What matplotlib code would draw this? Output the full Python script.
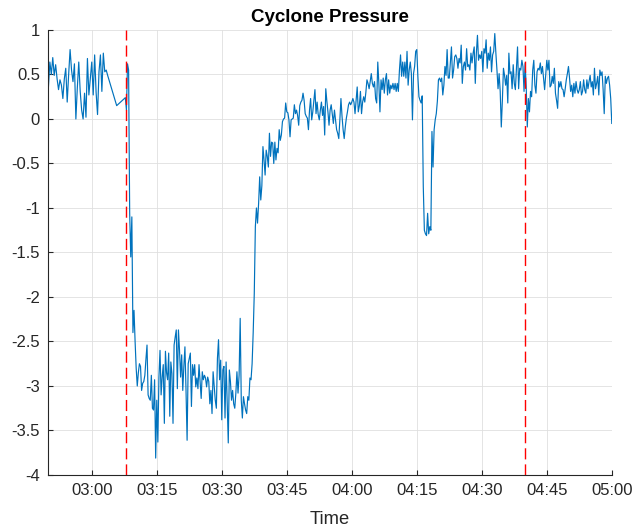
import numpy as np
import pandas as pd
import matplotlib
matplotlib.use("Agg")
import matplotlib.pyplot as plt
import matplotlib.dates as mdates
from matplotlib.ticker import FuncFormatter

plt.rcParams['font.family'] = ['Liberation Sans', 'DejaVu Sans']

day = '2021-01-01 '

# logger readings before the dropout, one every 20 s from 02:50
early = [0.36, 0.64, 0.5, 0.69, 0.49, 0.61, 0.45, 0.33, 0.44, 0.38,
         0.23, 0.45, 0.57, 0.19, 0.5, 0.78, 0.55, 0.42, 0.62, 0.0,
         0.35, 0.64, 0.31, 0.1, 0.0, 0.29, 0.02, 0.68, 0.27, 0.45,
         0.64, 0.27, 0.72, 0.3, 0.05, 0.53, 0.72, 0.31, 0.74, 0.53,
         0.55, 0.49]

# the two stray samples inside the dropout
gap_times = ['03:05:45', '03:07:45']
gap_vals = [0.15, 0.24]

# from 03:08 on, one reading every 15 s
drop = [0.10, 0.62, 0.55, -1.06, -1.55, -1.1, -2.4, -2.15, -2.5, -2.8,
        -3.0, -2.85, -2.75]
low = [-2.78, -3.05, -2.97, -2.95, -2.88, -2.7, -2.54, -3.1, -3.14, -3.16,
       -2.88, -3.25, -3.27, -2.93, -3.81, -3.16, -3.63, -2.9, -2.6, -3.1,
       -2.9, -2.76, -3.42, -2.61, -2.85, -2.93, -2.63, -3.34, -2.73, -2.86,
       -3.42, -2.54, -2.45, -2.37, -3.03, -2.37, -2.6, -2.9, -2.65, -3.05,
       -2.78, -2.56, -3.05, -3.61, -2.75, -2.69, -2.63, -3.23, -2.76, -2.88,
       -2.76, -3.01, -2.91, -3.03, -2.76, -2.95, -3.14, -2.84, -2.93, -2.88,
       -2.91, -3.01, -2.9, -2.95, -3.2, -3.05, -3.31, -2.84, -3.0, -3.16,
       -3.25, -2.69, -2.48, -2.93, -2.71, -3.38, -2.82, -2.78, -3.36, -2.73,
       -3.2, -3.64, -2.82, -2.95, -3.16, -3.05, -3.2, -3.25, -3.08, -2.84,
       -3.08, -2.88, -2.24, -3.16, -3.36, -3.12, -3.2, -3.27, -3.31, -3.12,
       -3.16, -2.91, -2.93]
rise = [-2.75, -2.4, -1.96, -1.21, -1.0, -1.17, -0.95, -0.65, -0.91, -0.75,
        -0.31, -0.46, -0.63, -0.35, -0.42, -0.54, -0.16, -0.42, -0.26, -0.27,
        -0.5, -0.26, -0.46, -0.33, -0.38, -0.12, -0.24, -0.18, -0.03, 0.0,
        0.01, 0.18, 0.08, 0.07, -0.01]
plateau = [-0.2, -0.01, 0.0, 0.01, 0.16, 0.06, 0.1, 0.04, -0.07, 0.15,
           0.19, 0.21, 0.29, 0.21, 0.06, 0.03, 0.01, -0.12, 0.1, 0.23,
           -0.01, 0.08, 0.21, 0.33, 0.06, 0.19, 0.05, -0.01, 0.1, 0.19,
           0.04, 0.14, -0.18, 0.34, 0.2, 0.08, -0.07, 0.1, 0.16, 0.06,
           -0.05, 0.1, -0.01, -0.12, -0.16, -0.22, -0.01, 0.23, 0.03, -0.12,
           -0.22, -0.09, 0.01, 0.08, 0.16, 0.19, 0.16, 0.19, 0.23, 0.19,
           0.06, 0.21, 0.36, 0.08, 0.15, 0.31, 0.06, 0.19, 0.25, 0.19,
           0.3, 0.44, 0.4, 0.34, 0.42, 0.51, 0.4, 0.36, 0.42, 0.23,
           0.18, 0.64, 0.4, 0.08, 0.44, 0.33, 0.46, 0.29, 0.44, 0.51,
           0.27, 0.44, 0.29, 0.38, 0.34, 0.4, 0.33, 0.4, 0.31, 0.4,
           0.31, 0.55, 0.72, 0.48, 0.64, 0.48, 0.64, 0.46, 0.76, 0.38,
           0.55, 0.64, 0.51, -0.01, 0.51, 0.59, 0.76, 0.78, 0.48, 0.25,
           0.21]
dip = [0.18, 0.26, -0.76, -1.25, -1.29, -1.31, -1.06, -1.29, -1.21, -1.25,
       -0.14, -0.54, -0.12, -0.01, 0.06, 0.2, 0.44, 0.46, 0.42, 0.46,
       0.27, 0.38]
top = [0.59, 0.49, 0.78, 0.46, 0.46, 0.64, 0.81, 0.46, 0.55, 0.7,
       0.72, 0.68, 0.57, 0.68, 0.63, 0.83, 0.4, 0.59, 0.64, 0.55,
       0.79, 0.59, 0.61, 0.55, 0.74, 0.63, 0.74, 0.81, 0.4, 0.74,
       0.94, 0.66, 0.72, 0.68, 0.76, 0.53, 0.79, 0.74, 0.89, 0.57,
       0.74, 0.66, 0.81, 0.53, 0.72, 0.76, 0.96, 0.74, 0.55, 0.34,
       0.51, 0.31, -0.09, 0.21, 0.57, 0.49, 0.38, 0.49, 0.18, 0.74,
       0.51, 0.53, 0.34, 0.61, 0.4, 0.33, 0.57, 0.81, 0.34, 0.57]
late = [0.55, 0.66, 0.59, 0.31, 0.63, 0.36, -0.09, 0.23, 0.08, 0.31,
        0.25, 0.55, 0.66, 0.38, 0.29, 0.53, 0.57, 0.55, 0.63, 0.51,
        0.59, 0.46, 0.33, 0.49, 0.66, 0.55, 0.66, 0.36, 0.38, 0.48,
        0.4, 0.57, 0.29, 0.21, 0.12, 0.42, 0.36, 0.42, 0.34, 0.33,
        0.25, 0.34, 0.44, 0.51, 0.59, 0.46, 0.31, 0.38, 0.25, 0.4,
        0.29, 0.42, 0.33, 0.29, 0.33, 0.42, 0.27, 0.31, 0.44, 0.33,
        0.29, 0.44, 0.34, 0.42, 0.49, 0.36, 0.42, 0.27, 0.57, 0.34,
        0.4, 0.48, 0.27, 0.55, 0.49, 0.53, 0.33, 0.06, 0.48, 0.4,
        0.46, 0.48, 0.38, 0.23, -0.05]

markers = ['03:08', '04:40']

main = drop + low + rise + plateau + dip + top + late

t_early = pd.Timestamp(day + '02:50:00') + pd.to_timedelta(np.arange(len(early)) * 20, unit='s')
t_gap = pd.to_datetime([day + s for s in gap_times])
t_main = pd.Timestamp(day + '03:08:00') + pd.to_timedelta(np.arange(len(main)) * 15, unit='s')

times = np.concatenate([t_early.values, t_gap.values, t_main.values])
pressure = np.array(early + gap_vals + main)

fig = plt.figure(figsize=(6.33, 5.30), dpi=100)
ax = fig.add_axes([0.0765, 0.1038, 0.890, 0.8396])

dark = '#262626'
ax.plot(times, pressure, color='#0072BD', lw=0.85)
for m in markers:
    ax.axvline(pd.Timestamp(day + m), color='red', lw=1.0, linestyle=(0, (8, 3.6)))

ax.set_xlim(pd.Timestamp(day + '02:50'), pd.Timestamp(day + '05:00'))
ax.set_ylim(-4, 1)
ax.set_yticks(np.arange(-4, 1.01, 0.5))
ax.yaxis.set_major_formatter(FuncFormatter(lambda v, p: f'{v:g}'))
ax.xaxis.set_major_locator(mdates.MinuteLocator(byminute=[0, 15, 30, 45]))
ax.xaxis.set_major_formatter(mdates.DateFormatter('%H:%M'))

ax.grid(True, color='#DFDFDF', lw=0.6)
ax.set_axisbelow(True)
for side in ['top', 'right']:
    ax.spines[side].set_visible(False)
for side in ['left', 'bottom']:
    ax.spines[side].set_color(dark)
    ax.spines[side].set_linewidth(0.8)
ax.tick_params(direction='in', length=3.6, width=0.8, color=dark,
               labelcolor=dark, labelsize=12, pad=6)

ax.set_xlabel('Time', fontsize=13.2, color=dark, labelpad=9)
ax.set_title('Cyclone Pressure', fontsize=13.5, fontweight='bold', color='black', pad=6)

fig.savefig('out.png', dpi=100)
